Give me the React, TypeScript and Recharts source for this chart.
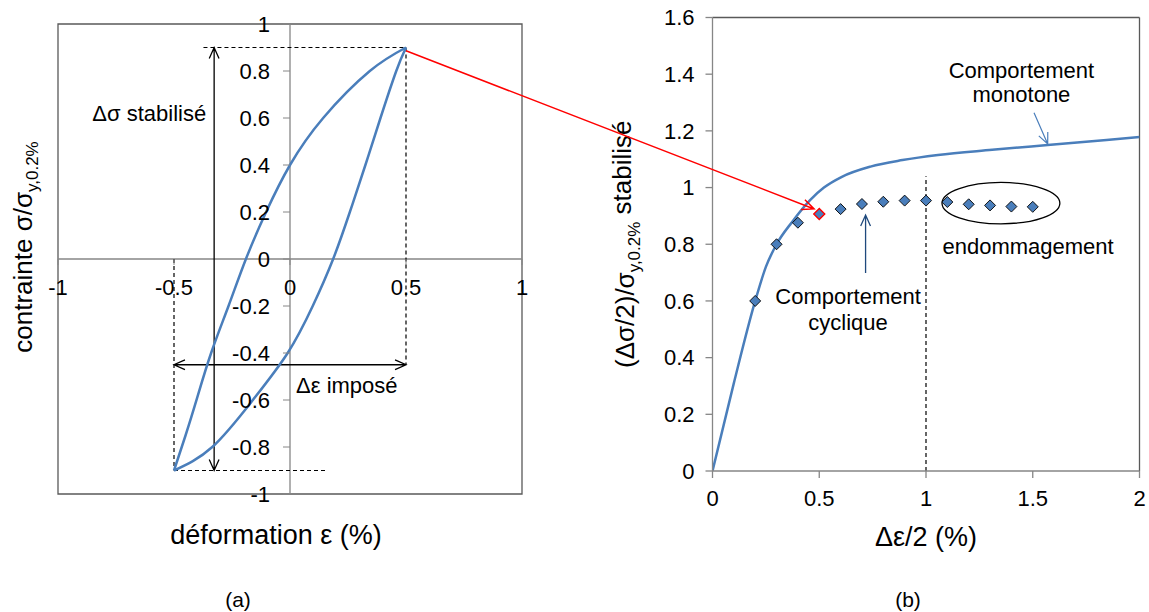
import React from "react";
import {
  ComposedChart,
  Line,
  ReferenceArea,
  ReferenceDot,
  ReferenceLine,
  Scatter,
  XAxis,
  YAxis,
} from "recharts";

const WIDTH = 1149;
const HEIGHT = 612;
const FONT = "'Liberation Sans', Arial, Helvetica, sans-serif";
const BLUE = "#4a7ebb";
const DARK_BLUE = "#1f497d";
const RED = "#ff0000";
const AXIS_GREY = "#868686";
const BOX_GREY = "#595959";
const DASH = "4 3";

// (a) stabilised hysteresis loop
const loopXTicks = [-1, -0.5, 0, 0.5, 1];
const loopYTicks = [-1, -0.8, -0.6, -0.4, -0.2, 0, 0.2, 0.4, 0.6, 0.8, 1];
const loadingStrain = [-0.5, -0.45, -0.4, -0.34, -0.265, -0.19, -0.103, 0, 0.143, 0.344, 0.5];
const loadingStress = [-0.9, -0.75, -0.59, -0.4, -0.2, 0, 0.2, 0.4, 0.6, 0.8, 0.9];
const unloadingStrain = [-0.5, -0.335, -0.16, -0.01, 0.098, 0.186, 0.258, 0.325, 0.39, 0.458, 0.5];
const unloadingStress = [-0.9, -0.8, -0.6, -0.4, -0.2, 0, 0.2, 0.4, 0.6, 0.8, 0.9];

// (b) cyclic vs monotone curve
const cyclicXTicks = [0, 0.5, 1, 1.5, 2];
const cyclicYTicks = [0, 0.2, 0.4, 0.6, 0.8, 1, 1.2, 1.4, 1.6];
const strainAmplitude = [0.2, 0.3, 0.4, 0.5, 0.6, 0.7, 0.8, 0.9, 1, 1.1, 1.2, 1.3, 1.4, 1.5];
const cyclicStress = [0.6, 0.8, 0.876, 0.907, 0.924, 0.942, 0.95, 0.954, 0.954, 0.949, 0.941, 0.937, 0.933, 0.932];
const monotoneStrain = [0, 0.1, 0.2, 0.25, 0.3, 0.372, 0.457, 0.522, 0.606, 0.74, 0.89, 1.056, 1.31, 1.57, 2];
const monotoneStress = [0, 0.31, 0.6, 0.72, 0.8, 0.878, 0.956, 1.0, 1.038, 1.074, 1.097, 1.115, 1.133, 1.15, 1.178];
const highlightedStrain = 0.5;

const zip = (xs: number[], ys: number[]) => xs.map((x, i) => ({ x, y: ys[i] }));

const loadingBranch = zip(loadingStrain, loadingStress);
const unloadingBranch = zip(unloadingStrain, unloadingStress);
const cyclicPoints = zip(strainAmplitude, cyclicStress);
const monotoneCurve = zip(monotoneStrain, monotoneStress);

// open "V" arrowheads drawn on a reference segment
function arrow(color: string, width: number, both: boolean, head = 12) {
  return (p: any) => {
    const { x1, y1, x2, y2 } = p;
    const a = Math.atan2(y2 - y1, x2 - x1);
    const spread = 0.42;
    const tip = (x: number, y: number, ang: number) =>
      `M${x - head * Math.cos(ang - spread)},${y - head * Math.sin(ang - spread)}L${x},${y}L${x - head * Math.cos(ang + spread)},${y - head * Math.sin(ang + spread)}`;
    const d = `M${x1},${y1}L${x2},${y2}` + tip(x2, y2, a) + (both ? tip(x1, y1, a + Math.PI) : "");
    return <path d={d} fill="none" stroke={color} strokeWidth={width} />;
  };
}

function note(lines: string[], anchor: "start" | "middle" | "end", color = "#000", gap = 25) {
  return (p: any) => (
    <text x={p.cx} y={p.cy} textAnchor={anchor} fontSize={22} fontFamily={FONT} fill={color}>
      {lines.map((line, i) => (
        <tspan key={line} x={p.cx} dy={i === 0 ? "0.35em" : gap}>
          {line}
        </tspan>
      ))}
    </text>
  );
}

const yTick = (label: string) => (p: any) => (
  <g>
    <line x1={p.cx - 7} y1={p.cy} x2={p.cx} y2={p.cy} stroke={AXIS_GREY} />
    <text x={p.cx - 20} y={p.cy} dy="0.35em" textAnchor="end" fontSize={22} fontFamily={FONT} fill="#000">
      {label}
    </text>
  </g>
);

const xTick = (label: string) => (p: any) => (
  <g>
    <line x1={p.cx} y1={p.cy} x2={p.cx} y2={p.cy + 6} stroke={AXIS_GREY} />
    <text x={p.cx} y={p.cy + 28} dy="0.35em" textAnchor="middle" fontSize={22} fontFamily={FONT} fill="#000">
      {label}
    </text>
  </g>
);

function rotatedTitle(main: string, sub: string, tail: string, dx: number, dy: number) {
  return (p: any) => {
    const vb = p.viewBox ?? { x: 0, y: 0, width: 0, height: HEIGHT };
    const x = vb.x + dx;
    const y = vb.y + vb.height / 2 + dy;
    return (
      <text
        x={x}
        y={y}
        transform={`rotate(-90 ${x} ${y})`}
        textAnchor="middle"
        dy="0.35em"
        fontSize={26}
        fontFamily={FONT}
        fill="#000"
      >
        <tspan>{main}</tspan>
        <tspan fontSize={17} dy="0.35em">
          {sub}
        </tspan>
        <tspan dy="-0.35em">{tail}</tspan>
      </text>
    );
  };
}

function bottomTitle(title: string, tag: string, dx: number, dy: number, tagDx: number, tagDy: number) {
  return (p: any) => {
    const vb = p.viewBox ?? { x: 0, y: 0, width: 0, height: 0 };
    return (
      <g>
        <text x={vb.x + dx} y={vb.y + dy} dy="0.35em" textAnchor="middle" fontSize={27} fontFamily={FONT} fill="#000">
          {title}
        </text>
        <text x={vb.x + tagDx} y={vb.y + tagDy} dy="0.35em" textAnchor="middle" fontSize={21} fontFamily={FONT} fill="#000">
          {tag}
        </text>
      </g>
    );
  };
}

function LoopChart() {
  return (
    <ComposedChart width={WIDTH} height={HEIGHT} margin={{ top: 24, right: 627, bottom: 0, left: 0 }}>
      <XAxis
        type="number"
        dataKey="x"
        domain={[-1, 1]}
        allowDataOverflow
        height={118}
        axisLine={false}
        tickLine={false}
        tick={false}
        label={bottomTitle("déformation ε (%)", "(a)", 218, 41, 180, 106)}
      />
      <YAxis
        type="number"
        dataKey="y"
        domain={[-1, 1]}
        allowDataOverflow
        width={58}
        axisLine={false}
        tickLine={false}
        tick={false}
        label={rotatedTitle("contrainte σ/σ", "y,0.2%", "", 23, -12)}
      />
      <ReferenceArea x1={-1} x2={1} y1={-1} y2={1} fill="none" stroke={BOX_GREY} strokeWidth={1.3} />
      <ReferenceLine x={0} stroke={AXIS_GREY} strokeWidth={1.3} />
      <ReferenceLine y={0} stroke={AXIS_GREY} strokeWidth={1.3} />

      <ReferenceLine segment={[{ x: -0.373, y: 0.9 }, { x: 0.5, y: 0.9 }]} stroke="#000" strokeWidth={1.2} strokeDasharray={DASH} />
      <ReferenceLine segment={[{ x: 0.5, y: 0.9 }, { x: 0.5, y: -0.45 }]} stroke="#000" strokeWidth={1.2} strokeDasharray={DASH} />
      <ReferenceLine segment={[{ x: -0.5, y: 0 }, { x: -0.5, y: -0.9 }]} stroke="#000" strokeWidth={1.2} strokeDasharray={DASH} />
      <ReferenceLine segment={[{ x: -0.5, y: -0.9 }, { x: 0.154, y: -0.9 }]} stroke="#000" strokeWidth={1.2} strokeDasharray={DASH} />

      <ReferenceLine segment={[{ x: -0.327, y: -0.9 }, { x: -0.327, y: 0.9 }]} shape={arrow("#000", 1.3, true)} />
      <ReferenceLine segment={[{ x: -0.5, y: -0.45 }, { x: 0.5, y: -0.45 }]} shape={arrow("#000", 1.3, true)} />

      {loopYTicks.map((v) => (
        <ReferenceDot key={`y${v}`} x={0} y={v} r={0} shape={yTick(String(v))} />
      ))}
      {loopXTicks.map((v) => (
        <ReferenceDot key={`x${v}`} x={v} y={0} r={0} shape={xTick(String(v))} />
      ))}

      <Line data={loadingBranch} dataKey="y" type="natural" stroke={BLUE} strokeWidth={2.5} dot={false} activeDot={false} isAnimationActive={false} />
      <Line data={unloadingBranch} dataKey="y" type="natural" stroke={BLUE} strokeWidth={2.5} dot={false} activeDot={false} isAnimationActive={false} />

      <ReferenceDot x={-0.361} y={0.621} r={0} shape={note(["Δσ stabilisé"], "end")} />
      <ReferenceDot x={0.026} y={-0.536} r={0} shape={note(["Δε imposé"], "start")} />

      {/* link from the loop tip to the matching point in (b) */}
      <ReferenceLine
        segment={[{ x: 0.5, y: 0.886 }, { x: 2.259, y: 0.213 }]}
        ifOverflow="visible"
        shape={arrow(RED, 1.5, false, 13)}
      />
    </ComposedChart>
  );
}

function CyclicChart() {
  const tickStyle = { fill: "#000", fontSize: 22, fontFamily: FONT };
  return (
    <ComposedChart width={WIDTH} height={HEIGHT} margin={{ top: 17.5, right: 9.5, bottom: 0, left: 600 }}>
      <XAxis
        type="number"
        dataKey="x"
        domain={[0, 2]}
        ticks={cyclicXTicks}
        interval={0}
        allowDataOverflow
        height={141}
        stroke={AXIS_GREY}
        strokeWidth={1.3}
        tickSize={7}
        tickMargin={12}
        tick={tickStyle}
        label={bottomTitle("Δε/2 (%)", "(b)", 213.5, 66, 195.5, 129)}
      />
      <YAxis
        type="number"
        dataKey="y"
        domain={[0, 1.6]}
        ticks={cyclicYTicks}
        interval={0}
        allowDataOverflow
        width={112.5}
        stroke={AXIS_GREY}
        strokeWidth={1.3}
        tickSize={7}
        tickMargin={11}
        tick={tickStyle}
        label={rotatedTitle("(Δσ/2)/σ", "y,0.2%", " stabilisé", 25, 0)}
      />
      <ReferenceLine y={1.6} stroke={BOX_GREY} strokeWidth={1.3} />
      <ReferenceLine x={2} stroke={BOX_GREY} strokeWidth={1.3} />
      <ReferenceLine segment={[{ x: 1, y: 0 }, { x: 1, y: 1.04 }]} stroke="#000" strokeWidth={1.2} strokeDasharray={DASH} />

      <Line data={monotoneCurve} dataKey="y" type="monotone" stroke={BLUE} strokeWidth={2.5} dot={false} activeDot={false} isAnimationActive={false} />
      <Scatter
        data={cyclicPoints}
        dataKey="y"
        isAnimationActive={false}
        shape={(p: any) => {
          const hl = p.payload?.x === highlightedStrain;
          const s = 5.5;
          return (
            <path
              d={`M${p.cx},${p.cy - s}L${p.cx + s},${p.cy}L${p.cx},${p.cy + s}L${p.cx - s},${p.cy}Z`}
              fill={BLUE}
              stroke={hl ? RED : "#000"}
              strokeWidth={hl ? 1.4 : 0.9}
            />
          );
        }}
      />

      <ReferenceArea
        x1={1.075}
        x2={1.627}
        y1={0.872}
        y2={1.018}
        shape={(p: any) => (
          <ellipse
            cx={p.x + p.width / 2}
            cy={p.y + p.height / 2}
            rx={p.width / 2}
            ry={p.height / 2}
            fill="none"
            stroke="#000"
            strokeWidth={1.3}
          />
        )}
      />

      <ReferenceLine segment={[{ x: 1.506, y: 1.264 }, { x: 1.57, y: 1.154 }]} shape={arrow(BLUE, 1.2, false, 12)} />
      <ReferenceLine segment={[{ x: 0.717, y: 0.699 }, { x: 0.717, y: 0.903 }]} shape={arrow(DARK_BLUE, 1.3, false, 12)} />

      <ReferenceDot x={1.447} y={1.415} r={0} shape={note(["Comportement", "monotone"], "middle", "#000", 24)} />
      <ReferenceDot x={0.635} y={0.615} r={0} shape={note(["Comportement", "cyclique"], "middle", "#000", 25.6)} />
      <ReferenceDot x={1.478} y={0.794} r={0} shape={note(["endommagement"], "middle")} />
    </ComposedChart>
  );
}

export default function App() {
  return (
    <div style={{ position: "absolute", left: 0, top: 0, width: WIDTH, height: HEIGHT, background: "#fff" }}>
      <div style={{ position: "absolute", left: 0, top: 0 }}>
        <CyclicChart />
      </div>
      <div style={{ position: "absolute", left: 0, top: 0 }}>
        <LoopChart />
      </div>
    </div>
  );
}
